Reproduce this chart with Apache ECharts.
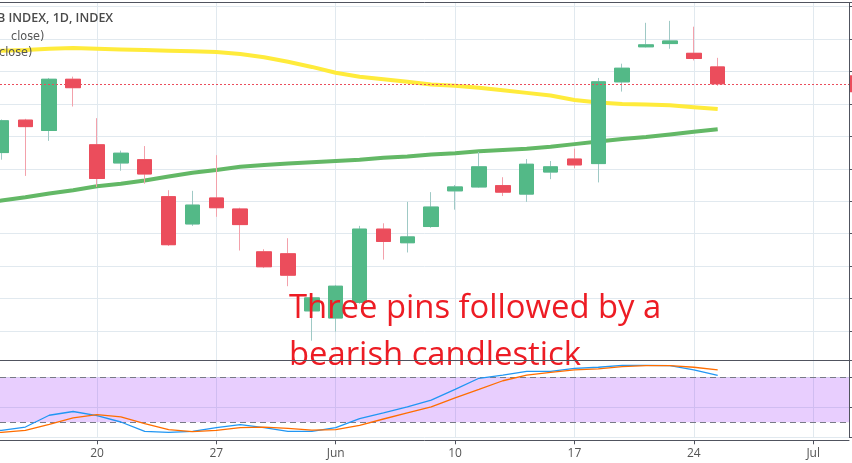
<!DOCTYPE html>
<html><head><meta charset="utf-8">
<script src="https://cdn.jsdelivr.net/npm/echarts@6/dist/echarts.min.js"></script>
<style>html,body{margin:0;padding:0;background:#fff;overflow:hidden}#c{width:852px;height:463px}</style>
</head><body><div id="c"></div>
<script>
// ---- data ----
const dates = ['May 13','May 14','May 15','May 16','May 17','May 20','May 21','May 22','May 23','May 24','May 27','May 28','May 29','May 30','May 31','Jun 3','Jun 4','Jun 5','Jun 6','Jun 7','Jun 10','Jun 11','Jun 12','Jun 13','Jun 14','Jun 17','Jun 18','Jun 19','Jun 20','Jun 21','Jun 24','Jun 25','Jun 26','Jun 27','Jun 28','Jul 1','Jul 2'];
const tickDates = ['May 20','May 27','Jun 3','Jun 10','Jun 17','Jun 24','Jul 1'];
const tickLabels = ['20','27','Jun','10','17','24','Jul'];

const open  = [null,11925,11975,11959,12038,11937,11909,11914,11857,11815,11855,11838,11772,11769,11681,11670,11694,11807,11786,11811,11866,11872,11874,11861,11895,11915,11908,12034,12088,12093,12078,12057,null,null,null,null,null];
const high  = [null,11976,11977,12040,12042,11978,11928,11935,11867,11866,11921,11840,11776,11793,11707,11721,11812,11816,11849,11864,11875,11926,11887,11915,11912,11931,12040,12062,12125,12128,12119,12071,null,null,null,null,null];
const low   = [null,11914,11889,11943,11996,11872,11897,11877,11781,11812,11826,11774,11747,11719,11635,11649,11692,11760,11771,11809,11837,11871,11858,11849,11884,11901,11879,12019,12087,12085,12067,12028,null,null,null,null,null];
const close = [null,11974,11965,12038,12025,11885,11924,11892,11783,11844,11840,11814,11749,11736,11701,11719,11807,11788,11795,11841,11872,11903,11864,11907,11903,11906,12034,12055,12091,12097,12070,12031,null,null,null,null,null];

const maSlow = [12080,12082,12083,12085,12086,12085,12084,12083,12082,12081,12080,12077,12072,12065,12057,12048,12042,12038,12034,12030,12028,12025,12021,12017,12013,12006,12002,12000,11999,11998,11995,11992,null,null,null,null,null];
const maFast = [11846,11851,11856,11862,11867,11873,11877,11882,11888,11894,11898,11903,11906,11908,11910,11912,11914,11917,11919,11922,11924,11927,11929,11931,11934,11938,11942,11946,11949,11953,11957,11961,null,null,null,null,null];

const stochK = [7,9.3,13.7,29.4,34.4,29,20.4,8,6.6,8,12.9,16.9,12.9,8,8,12.9,25,32.5,40.5,49.5,63.9,78.7,83,88,88,92,93.4,96,96,95.6,89.8,82.7,null,null,null,null,null];
const stochD = [5,6.6,9.3,17.3,25.8,30.3,27.2,18.3,10.2,7.5,9.3,12.9,13.7,12,9.7,10.2,16,24.4,32.5,40.5,52.6,63.9,75.4,83,86.7,89.8,91.1,94.2,95.6,95.6,93.4,89.8,null,null,null,null,null];
const stochBand = [20, 80];

const titleText = 'B INDEX, 1D, INDEX';
const maLabels = ['close)', 'close)'];
const noteLines = ['Three pins followed by a', 'bearish candlestick'];

// ---- build ----
const UP = '#53B987', DOWN = '#EB4D5C', WICK_UP = '#9fc9c5', WICK_DOWN = '#f3a1ab';
const GRID = '#e1e9ef', DARK = '#50535e', FONT = '"Open Sans", sans-serif';
const NARROW = '"Liberation Sans Narrow", "DejaVu Sans Condensed", "Open Sans", sans-serif';
const pairs = arr => arr.map((v, i) => v == null ? null : [i, v]).filter(Boolean);
const ohlc = dates.map((d, i) => open[i] == null ? null : [i, open[i], close[i], low[i], high[i]]).filter(Boolean);
const bodies = dates.map((d, i) => open[i] == null ? null :
  [i, open[i], close[i], Math.min(open[i], close[i]), Math.max(open[i], close[i])]).filter(Boolean);
const lastClose = close.filter(v => v != null).slice(-1)[0];
const tickIdx = tickDates.map(d => dates.indexOf(d));
const fmtTick = v => { const k = tickIdx.indexOf(Math.round(v)); return k >= 0 ? tickLabels[k] : ''; };

// visible window of the time axis (in day-slot units): the view is cut on both sides
const X_MIN = 0.9372, X_MAX = 36.5;
const xBase = { type: 'value', min: X_MIN, max: X_MAX };

const chart = echarts.init(document.getElementById('c'));
chart.setOption({
  animation: false,
  backgroundColor: '#ffffff',
  textStyle: { fontFamily: FONT },
  grid: [
    { left: 0, right: 3, top: 2.5, height: 358 },
    { left: 0, right: 3, top: 360.5, height: 76.8 }
  ],
  xAxis: [
    Object.assign({ gridIndex: 0, position: 'bottom',
      axisLine: { show: false, onZero: false },
      axisTick: { show: false, customValues: tickIdx }, axisLabel: { show: false, customValues: tickIdx },
      splitLine: { show: true, lineStyle: { color: GRID } } }, xBase),
    Object.assign({ gridIndex: 0, position: 'top',
      axisLine: { show: true, onZero: false, lineStyle: { color: DARK } }, axisTick: { show: false }, axisLabel: { show: false },
      splitLine: { show: false } }, xBase),
    Object.assign({ gridIndex: 1, position: 'bottom', offset: 3,
      axisLine: { show: true, onZero: false, lineStyle: { color: DARK } },
      axisTick: { show: true, customValues: tickIdx, length: 4, lineStyle: { color: DARK } },
      axisLabel: { customValues: tickIdx, formatter: fmtTick, color: '#555', fontSize: 12, margin: 7, fontFamily: FONT },
      splitLine: { show: true, lineStyle: { color: GRID } } }, xBase),
    // pane separator, drawn above everything
    Object.assign({ gridIndex: 1, position: 'top', z: 200,
      axisLine: { show: true, onZero: false, lineStyle: { color: DARK } }, axisTick: { show: false }, axisLabel: { show: false },
      splitLine: { show: false } }, xBase)
  ],
  yAxis: [
    { gridIndex: 0, type: 'value', position: 'right', min: 11604.5, max: 12156.3, splitNumber: 11,
      axisLine: { show: true, lineStyle: { color: DARK } }, axisTick: { show: true, length: 4, lineStyle: { color: DARK } },
      axisLabel: { show: false }, splitLine: { show: true, lineStyle: { color: GRID } } },
    { gridIndex: 1, type: 'value', position: 'right', min: 0, max: 102.4, interval: 40,
      axisLine: { show: true, lineStyle: { color: DARK } }, axisTick: { show: true, length: 4, lineStyle: { color: DARK } },
      axisLabel: { show: false }, splitLine: { show: true, lineStyle: { color: GRID } } }
  ],
  series: [
    { type: 'line', name: 'MA slow', xAxisIndex: 0, yAxisIndex: 0, data: pairs(maSlow), showSymbol: false, silent: true, z: 2,
      lineStyle: { color: '#FFEB3B', width: 4 } },
    { type: 'line', name: 'MA fast', xAxisIndex: 0, yAxisIndex: 0, data: pairs(maFast), showSymbol: false, silent: true, z: 2,
      lineStyle: { color: '#63B866', width: 4 } },
    { type: 'candlestick', name: 'wicks', xAxisIndex: 0, yAxisIndex: 0, data: ohlc, barWidth: 15, silent: true, z: 3,
      encode: { x: 0, y: [1, 2, 3, 4] },
      itemStyle: { color: WICK_UP, color0: WICK_DOWN, borderColor: WICK_UP, borderColor0: WICK_DOWN, borderWidth: 1 } },
    { type: 'candlestick', name: 'bodies', xAxisIndex: 0, yAxisIndex: 0, data: bodies, barWidth: 15, silent: true, z: 4,
      encode: { x: 0, y: [1, 2, 3, 4] },
      itemStyle: { color: UP, color0: DOWN, borderColor: UP, borderColor0: DOWN, borderWidth: 1 },
      markLine: { symbol: 'none', silent: true, animation: false,
        lineStyle: { color: DOWN, type: [2, 2], width: 1 },
        label: { show: true, position: 'end', distance: 1, backgroundColor: DOWN, color: '#fff', fontSize: 11, padding: [3, 4],
          formatter: p => p.value.toFixed(1) },
        data: [{ yAxis: lastClose }] } },
    { type: 'line', name: '%K', xAxisIndex: 2, yAxisIndex: 1, data: pairs(stochK), showSymbol: false, silent: true, z: 5,
      lineStyle: { color: '#2196F3', width: 1.3 },
      markArea: { silent: true, itemStyle: { color: 'rgba(150,30,250,0.22)' },
        data: [[{ yAxis: stochBand[0] }, { yAxis: stochBand[1] }]] } },
    { type: 'line', name: '%D', xAxisIndex: 2, yAxisIndex: 1, data: pairs(stochD), showSymbol: false, silent: true, z: 5,
      lineStyle: { color: '#FF6D00', width: 1.3 },
      markLine: { symbol: 'none', silent: true, label: { show: false },
        lineStyle: { color: '#787B86', type: [6, 4], width: 1 },
        data: stochBand.map(v => ({ yAxis: v })) } }
  ],
  graphic: [
    { type: 'text', x: -3, y: 18, z: 100, style: { text: titleText, font: '600 12.5px ' + FONT, fill: '#4a4a4a', verticalAlign: 'middle' } },
    { type: 'text', x: 11, y: 36.5, z: 100, style: { text: maLabels[0], font: '12.5px ' + NARROW, fill: '#555', verticalAlign: 'middle' } },
    { type: 'text', x: -1, y: 53, z: 100, style: { text: maLabels[1], font: '12.5px ' + NARROW, fill: '#555', verticalAlign: 'middle' } },
    { type: 'text', x: 289, y: 309, z: 100, style: { text: noteLines[0], font: '32.8px ' + FONT, fill: '#ED1C24', verticalAlign: 'middle' } },
    { type: 'text', x: 289, y: 355.5, z: 100, style: { text: noteLines[1], font: '32.8px ' + FONT, fill: '#ED1C24', verticalAlign: 'middle' } }
  ]
});
</script></body></html>
